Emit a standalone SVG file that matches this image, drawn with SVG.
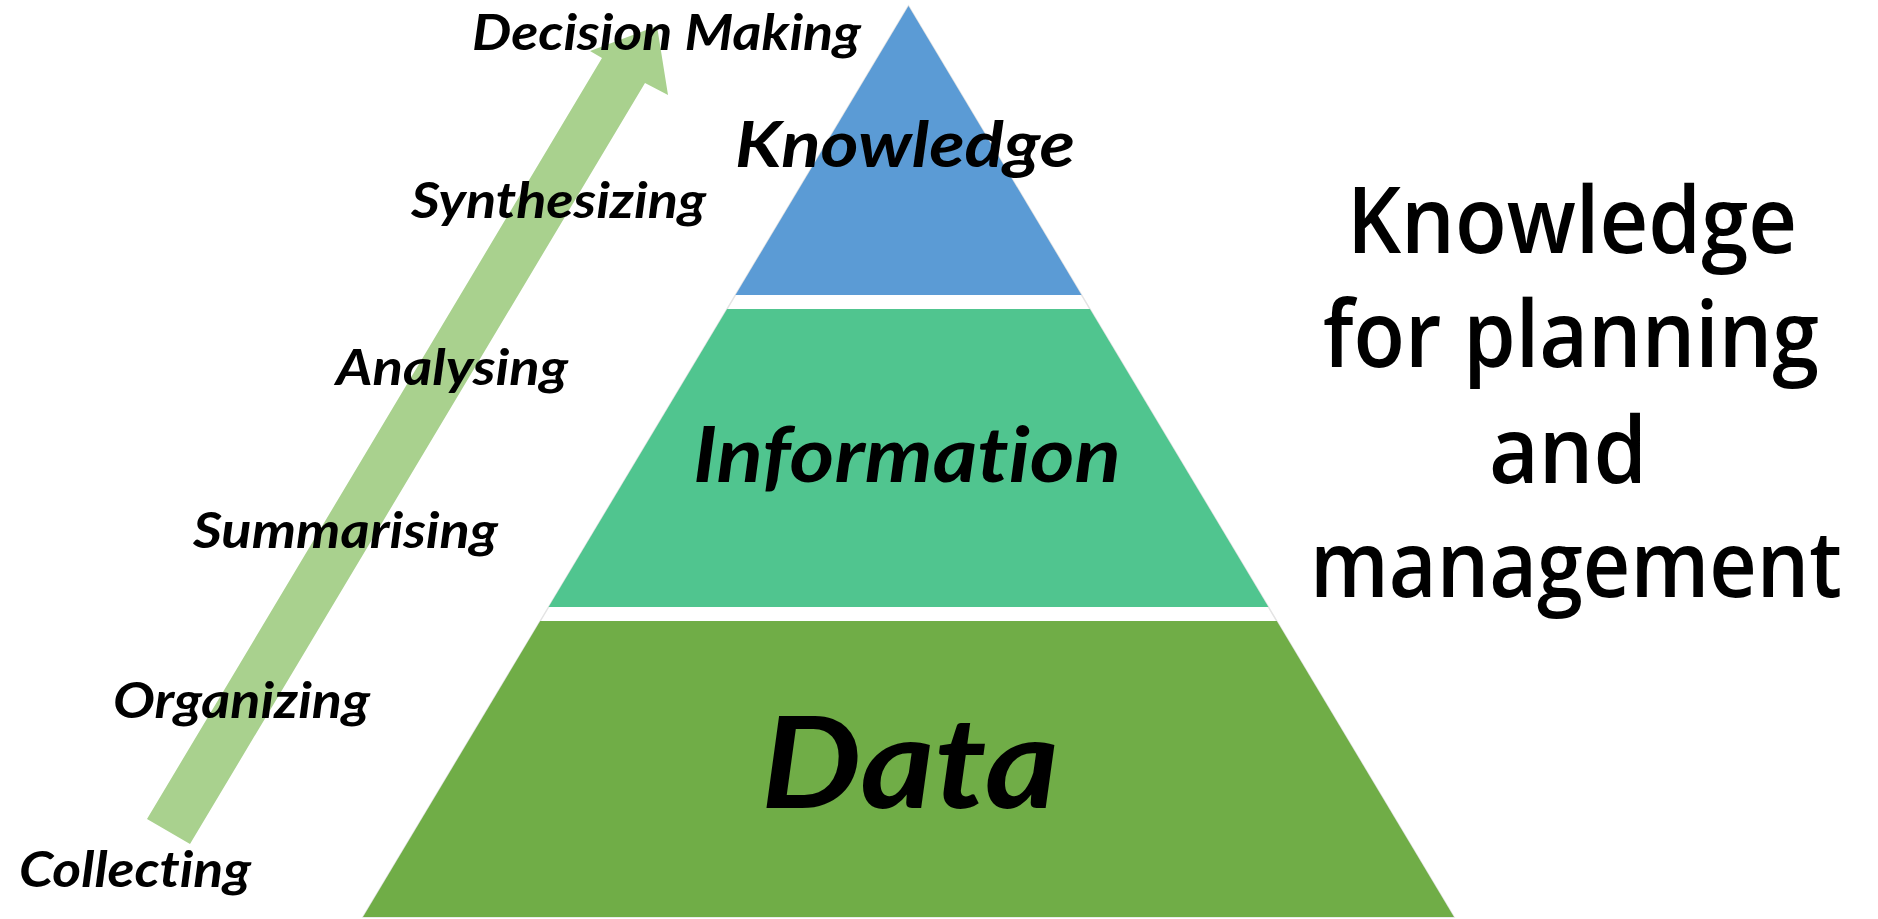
<svg xmlns="http://www.w3.org/2000/svg" width="1878" height="919" viewBox="0 0 1878 919">
  <style>
    .step { font-family: Lato, "Open Sans", "Liberation Sans", sans-serif; font-weight: 700; font-style: italic; font-size: 50px; fill: #000; font-variant-ligatures: none; }
    .tier { font-family: Lato, "Open Sans", "Liberation Sans", sans-serif; font-weight: 700; font-style: italic; fill: #000; font-variant-ligatures: none; }
    .side { font-family: "Open Sans", "Noto Sans", "Liberation Sans", sans-serif; font-weight: 600; font-size: 92px; fill: #000; text-anchor: middle; font-variant-ligatures: none; }
    .outline { fill: none; stroke: #e4e4e4; stroke-width: 1.5; }
  </style>

  <rect x="0" y="0" width="1878" height="919" fill="#ffffff"/>

  <!-- faint outline of the whole pyramid, visible through the gaps -->
  <polygon class="outline" points="908.5,6 363,917 1454,917"/>

  <!-- process arrow -->
  <g id="connectors">
    <polygon fill="#A9D18E" points="147,819 602,58 590,51 657,26 668,95 645,83 190,844"/>
  </g>

  <!-- pyramid tiers -->
  <g id="tier-knowledge">
    <polygon fill="#5B9BD5" points="908.5,6 1081.5,295 735.5,295"/>
    <text class="tier" x="735" y="167" font-size="64" textLength="340" lengthAdjust="spacingAndGlyphs">Knowledge</text>
  </g>
  <g id="tier-information">
    <polygon fill="#50C58F" points="727.1,309 1089.9,309 1268.4,607 548.6,607"/>
    <text class="tier" x="693" y="482" font-size="77" textLength="428" lengthAdjust="spacingAndGlyphs">Information</text>
  </g>
  <g id="tier-data">
    <polygon fill="#70AD47" points="540.2,621 1276.8,621 1454,917 363,917"/>
    <text class="tier" x="761" y="808" font-size="127" textLength="298" lengthAdjust="spacingAndGlyphs">Data</text>
  </g>

  <!-- process steps along the arrow -->
  <g id="step-collecting"><text class="step" x="19" y="887" textLength="232" lengthAdjust="spacingAndGlyphs">Collecting</text></g>
  <g id="step-organizing"><text class="step" x="113" y="718" textLength="257" lengthAdjust="spacingAndGlyphs">Organizing</text></g>
  <g id="step-summarising"><text class="step" x="193" y="548" textLength="305" lengthAdjust="spacingAndGlyphs">Summarising</text></g>
  <g id="step-analysing"><text class="step" x="336" y="385" textLength="232" lengthAdjust="spacingAndGlyphs">Analysing</text></g>
  <g id="step-synthesizing"><text class="step" x="411" y="218" textLength="295" lengthAdjust="spacingAndGlyphs">Synthesizing</text></g>
  <g id="step-decision"><text class="step" x="472" y="50" textLength="389" lengthAdjust="spacingAndGlyphs">Decision Making</text></g>

  <!-- side caption -->
  <g id="caption">
    <text class="side" x="1572" y="253" textLength="450" lengthAdjust="spacingAndGlyphs">Knowledge</text>
    <text class="side" x="1571" y="367" textLength="496" lengthAdjust="spacingAndGlyphs">for planning</text>
    <text class="side" x="1568" y="483" textLength="158" lengthAdjust="spacingAndGlyphs">and</text>
    <text class="side" x="1576" y="597" textLength="532" lengthAdjust="spacingAndGlyphs">management</text>
  </g>
</svg>
